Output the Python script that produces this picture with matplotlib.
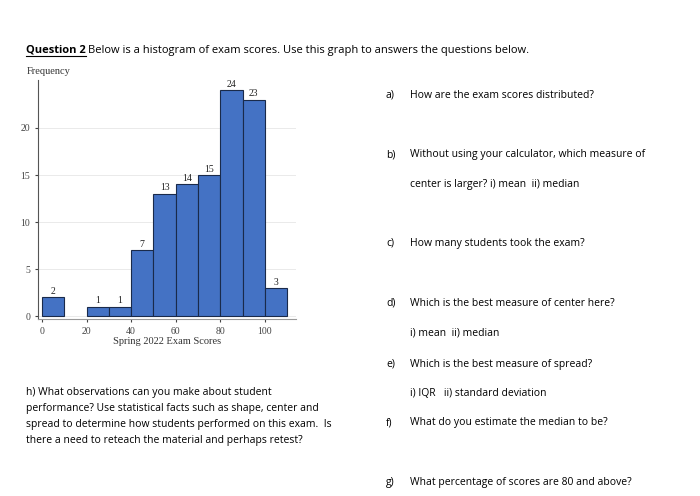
import matplotlib
matplotlib.use("Agg")
import matplotlib.pyplot as plt
import numpy as np

bin_edges = [0,10,20,30,40,50,60,70,80,90,100,110]
counts = [2,0,1,1,7,13,14,15,24,23,3]
xticks = [0,20,40,60,80,100]
yticks = [0,5,10,15,20]

W,H = 700,496
fig = plt.figure(figsize=(7,4.96), dpi=100)
fig.patch.set_facecolor("white")
def px(x0,y0,x1,y1):
    return [x0/W, 1-y1/H, (x1-x0)/W, (y1-y0)/H]
ax = fig.add_axes(px(38,80,296,319))
lefts = bin_edges[:-1]
for l,c in zip(lefts,counts):
    if c>0:
        ax.bar(l,c,width=10,align='edge',color='#4472c4',edgecolor='#1a2a4a',linewidth=0.8,zorder=3)
        ax.text(l+5,c+0.15,str(c),ha='center',va='bottom',fontsize=7,family='Liberation Serif',color='#222')
ax.set_xlim(-1.8,114)
ax.set_ylim(-0.3,25.1)
ax.set_xticks(xticks); ax.set_yticks(yticks)
ax.tick_params(labelsize=7,length=2,colors='#444')
for lab in ax.get_xticklabels()+ax.get_yticklabels():
    lab.set_family('Liberation Serif')
ax.grid(axis='y',color='#e6e6e6',linewidth=0.6,zorder=0)
for s in ['top','right']: ax.spines[s].set_visible(False)
ax.spines['left'].set_color('#555'); ax.spines['bottom'].set_color('#999')
ax.set_xlabel('Spring 2022 Exam Scores',fontsize=7.5,family='Liberation Serif',labelpad=1,color='#333')
fig.text(27/W,1-74/H,'Frequency',fontsize=7.5,family='Liberation Serif',color='#333')

f='Open Sans'
t = fig.text(26/W,1-50/H,'Question 2',fontsize=8,weight='bold',family=f,va='center')
fig.text(88/W,1-50/H,'Below is a histogram of exam scores. Use this graph to answers the questions below.',fontsize=8,family=f,va='center')
fig.add_artist(plt.Line2D([26/W,86/W],[1-56/H,1-56/H],color='black',linewidth=0.8))
qs = [(95,'a)','How are the exam scores distributed?'),
      (155,'b)','Without using your calculator, which measure of'),
      (185,None,'center is larger? i) mean  ii) median'),
      (243,'c)','How many students took the exam?'),
      (303,'d)','Which is the best measure of center here?'),
      (333,None,'i) mean  ii) median'),
      (364,'e)','Which is the best measure of spread?'),
      (393,None,'i) IQR   ii) standard deviation'),
      (423,'f)','What do you estimate the median to be?'),
      (483,'g)','What percentage of scores are 80 and above?')]
for y,l,s in qs:
    if l: fig.text(386/W,1-y/H,l,fontsize=7.5,family=f,va='center')
    fig.text(410/W,1-y/H,s,fontsize=7.5,family=f,va='center')
h = ['h) What observations can you make about student',
     'performance? Use statistical facts such as shape, center and',
     'spread to determine how students performed on this exam.  Is',
     'there a need to reteach the material and perhaps retest?']
for i,s in enumerate(h):
    fig.text(26/W,1-(393+16*i)/H,s,fontsize=7.5,family=f,va='center')
fig.savefig('out.png',dpi=100)
